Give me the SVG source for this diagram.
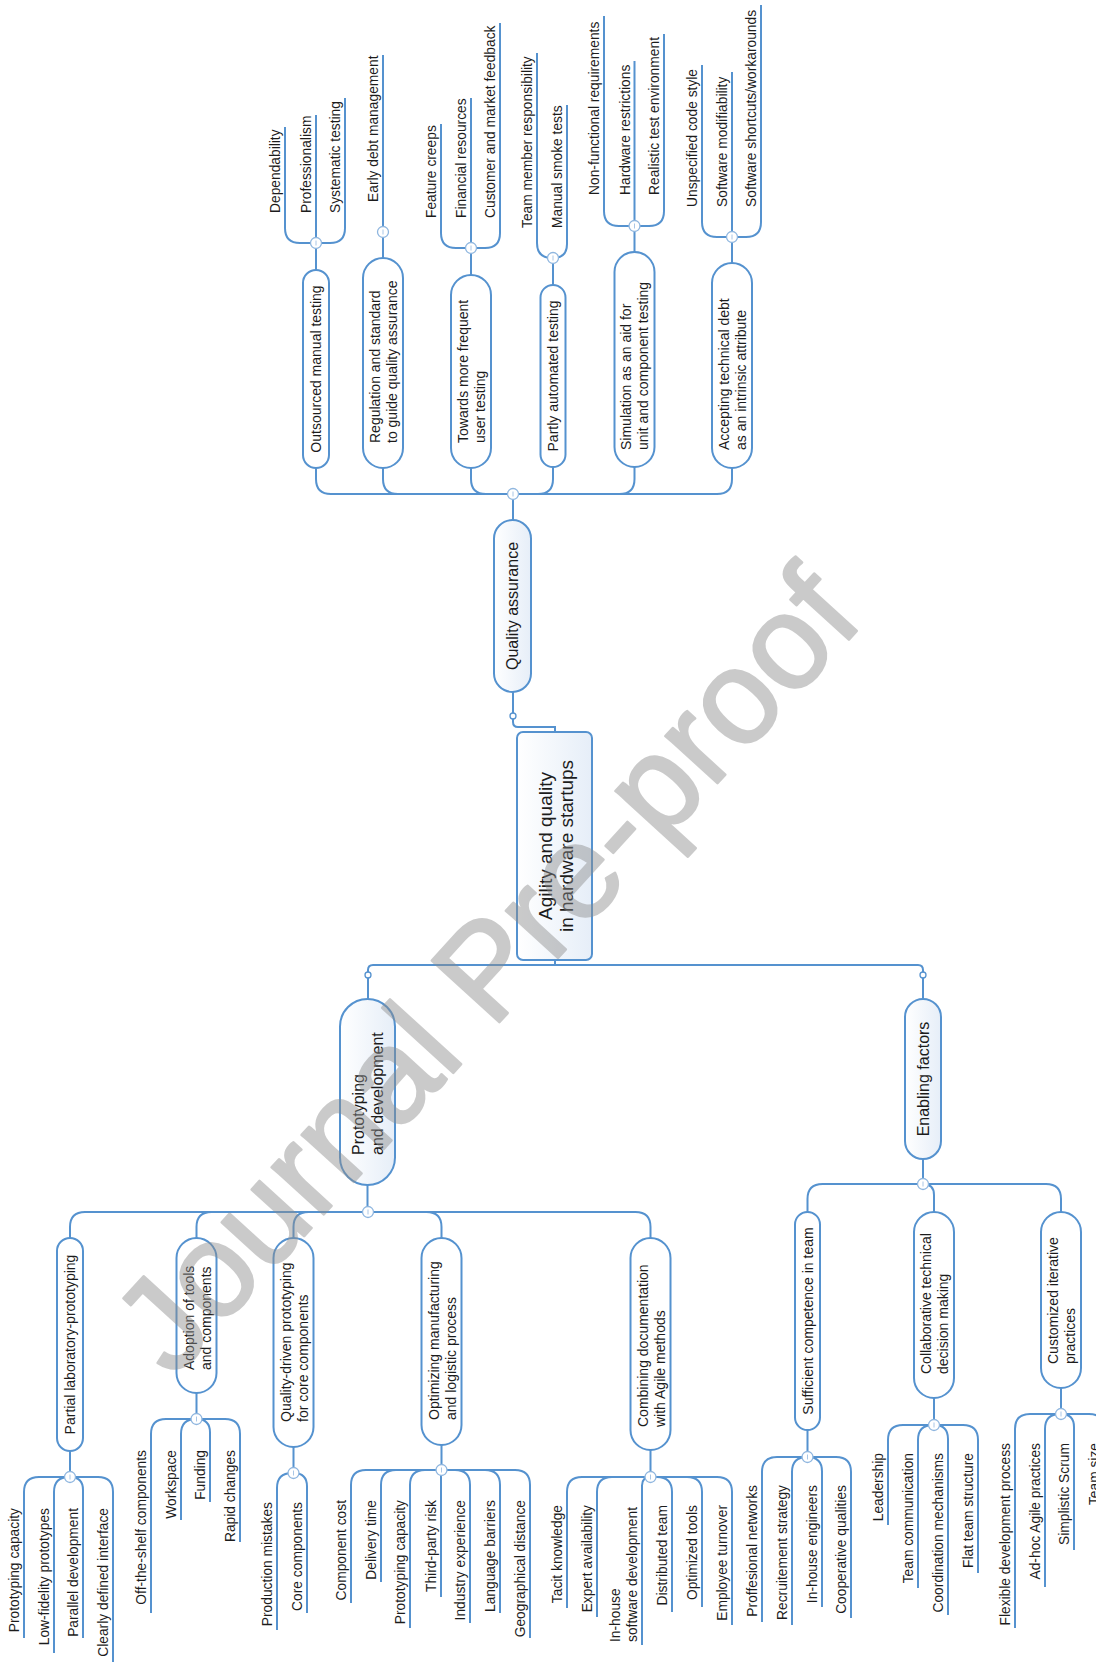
<svg xmlns="http://www.w3.org/2000/svg" width="1096" height="1662" viewBox="0 0 1096 1662">
<defs>
<linearGradient id="g" x1="0" y1="0" x2="1" y2="0">
<stop offset="0" stop-color="#ffffff"/>
<stop offset="1" stop-color="#e6eef8"/>
</linearGradient>
<style>
.ln{fill:none;stroke:#5592cf;stroke-width:2}
.nd{fill:#fff;stroke:#5592cf;stroke-width:2}
.mn{fill:url(#g);stroke:#5592cf;stroke-width:2}
.hb{fill:#fff;stroke:#8fb6df;stroke-width:1.3}
.tk{stroke:#a9c6e6;stroke-width:1}
.sm{fill:#fff;stroke:#5592cf;stroke-width:1.3}
text{font-family:"Liberation Sans",Arial,sans-serif;fill:#1c1c1c}
.t{font-size:13.8px}
.tn{font-size:14px}
.tm{font-size:16px}
.tc{font-size:19px}
.wm{font-size:133px;fill:#8c8c8c;stroke:#8c8c8c;stroke-width:2.5;stroke-linejoin:round;opacity:0.45}
</style>
</defs>
<rect width="1096" height="1662" fill="#fff"/>

<g id="connectors">
<path class="ln" d="M513,692 V722 Q513,727 518,727 H555 V732"/>
<path class="ln" d="M555,960 V965 H373 Q368,965 368,970 V999"/>
<path class="ln" d="M555,965 H918 Q923,965 923,970 V999"/>
<path class="ln" d="M513,520 V494"/>
<path class="ln" d="M513,494 H331 Q316,494 316,479 V468"/>
<path class="ln" d="M513,494 H398 Q383,494 383,479 V468"/>
<path class="ln" d="M513,494 H486 Q471,494 471,479 V468"/>
<path class="ln" d="M513,494 H538 Q553,494 553,479 V467"/>
<path class="ln" d="M513,494 H619.5 Q634.5,494 634.5,479 V467"/>
<path class="ln" d="M513,494 H717 Q732,494 732,479 V468"/>
<path class="ln" d="M316,270 V243 M383,258 V232 M471,275 V248 M553,285 V258 M634.5,252 V226 M732,263 V237"/>
<path class="ln" d="M316,243 H300 Q285,243 285,228 V127 M316,243 V115 M316,243 H330 Q345,243 345,228 V98"/>
<path class="ln" d="M383,232 V55"/>
<path class="ln" d="M471,248 H456 Q441,248 441,233 V124 M471,248 V98 M471,248 H485 Q500,248 500,233 V23"/>
<path class="ln" d="M553,258 H552 Q537,258 537,243 V53 M553,258 Q567,258 567,244 V105"/>
<path class="ln" d="M634.5,226 H619 Q604,226 604,211 V16 M634.5,226 V61 M634.5,226 H649 Q664,226 664,211 V34"/>
<path class="ln" d="M732,237 H717 Q702,237 702,222 V65 M732,237 V72 M732,237 H746 Q761,237 761,222 V5"/>
<path class="ln" d="M367.5,1185 V1212"/>
<path class="ln" d="M368,1212 H85 Q70,1212 70,1227 V1238"/>
<path class="ln" d="M368,1212 H211.5 Q196.5,1212 196.5,1227 V1238"/>
<path class="ln" d="M368,1212 H308.5 Q293.5,1212 293.5,1227 V1238"/>
<path class="ln" d="M368,1212 H426.5 Q441.5,1212 441.5,1227 V1238"/>
<path class="ln" d="M368,1212 H635.5 Q650.5,1212 650.5,1227 V1238"/>
<path class="ln" d="M70,1451 V1477 M196.5,1393 V1419 M293.5,1447 V1473 M441.5,1445 V1470 M650.5,1450 V1477"/>
<path class="ln" d="M70,1477 H39 Q24,1477 24,1492 V1638 M70,1477 H69 Q54,1477 54,1492 V1653 M70,1477 Q83,1477 83,1490 V1638 M70,1477 H98 Q113,1477 113,1492 V1662"/>
<path class="ln" d="M196.5,1419 H166 Q151,1419 151,1434 V1613 M196.5,1419 H196 Q181,1419 181,1434 V1520 M196.5,1419 Q210,1419 210,1432.5 V1502 M196.5,1419 H225 Q240,1419 240,1434 V1542"/>
<path class="ln" d="M293.5,1473 H292 Q277,1473 277,1488 V1630 M293.5,1473 Q307,1473 307,1486.5 V1613"/>
<path class="ln" d="M441.5,1470 H366 Q351,1470 351,1485 V1603 M441.5,1470 H396 Q381,1470 381,1485 V1582 M441.5,1470 H425 Q410,1470 410,1485 V1628 M441,1470 V1597 M441.5,1470 H455 Q470,1470 470,1485 V1623 M441.5,1470 H485 Q500,1470 500,1485 V1613 M441.5,1470 H515 Q530,1470 530,1485 V1638"/>
<path class="ln" d="M650.5,1477 H582 Q567,1477 567,1492 V1608 M650.5,1477 H612 Q597,1477 597,1492 V1617 M650.5,1477 Q642,1477 642,1485.5 V1645 M650.5,1477 H657 Q672,1477 672,1492 V1612 M650.5,1477 H687 Q702,1477 702,1492 V1607 M650.5,1477 H717 Q732,1477 732,1492 V1625"/>
<path class="ln" d="M923,1159 V1184"/>
<path class="ln" d="M923,1184 H822.5 Q807.5,1184 807.5,1199 V1212"/>
<path class="ln" d="M923,1184 Q934,1184 934,1195 V1212"/>
<path class="ln" d="M923,1184 H1046 Q1061,1184 1061,1199 V1212"/>
<path class="ln" d="M807.5,1430 V1457 M934,1398 V1425 M1061,1388 V1414"/>
<path class="ln" d="M807.5,1457 H777 Q762,1457 762,1472 V1622 M807.5,1457 H807 Q792,1457 792,1472 V1625 M807.5,1457 Q822,1457 822,1471.5 V1607 M807.5,1457 H836 Q851,1457 851,1472 V1618"/>
<path class="ln" d="M934,1425 H903 Q888,1425 888,1440 V1525 M934,1425 H933 Q918,1425 918,1440 V1588 M934,1425 Q948,1425 948,1439 V1615 M934,1425 H963 Q978,1425 978,1440 V1573"/>
<path class="ln" d="M1061,1414 H1030 Q1015,1414 1015,1429 V1628 M1061,1414 H1060 Q1045,1414 1045,1429 V1587 M1061,1414 Q1074,1414 1074,1427 V1550 M1061,1414 H1089 Q1104,1414 1104,1429 V1500"/>
<circle class="sm" cx="513" cy="716" r="3"/>
<circle class="sm" cx="368" cy="975" r="3"/>
<circle class="sm" cx="923" cy="975" r="3"/>
</g>

<g id="hubs">
<g><circle class="hb" cx="513" cy="494" r="5.5"/><path class="tk" d="M513,491.5V496.5"/></g>
<g><circle class="hb" cx="316" cy="243" r="5.5"/><path class="tk" d="M316,240.5V245.5"/></g>
<g><circle class="hb" cx="383" cy="232" r="5.5"/><path class="tk" d="M383,229.5V234.5"/></g>
<g><circle class="hb" cx="471" cy="248" r="5.5"/><path class="tk" d="M471,245.5V250.5"/></g>
<g><circle class="hb" cx="553" cy="258" r="5.5"/><path class="tk" d="M553,255.5V260.5"/></g>
<g><circle class="hb" cx="634.5" cy="226" r="5.5"/><path class="tk" d="M634.5,223.5V228.5"/></g>
<g><circle class="hb" cx="732" cy="237" r="5.5"/><path class="tk" d="M732,234.5V239.5"/></g>
<g><circle class="hb" cx="368" cy="1212" r="5.5"/><path class="tk" d="M368,1209.5V1214.5"/></g>
<g><circle class="hb" cx="70" cy="1477" r="5.5"/><path class="tk" d="M70,1474.5V1479.5"/></g>
<g><circle class="hb" cx="196.5" cy="1419" r="5.5"/><path class="tk" d="M196.5,1416.5V1421.5"/></g>
<g><circle class="hb" cx="293.5" cy="1473" r="5.5"/><path class="tk" d="M293.5,1470.5V1475.5"/></g>
<g><circle class="hb" cx="441.5" cy="1470" r="5.5"/><path class="tk" d="M441.5,1467.5V1472.5"/></g>
<g><circle class="hb" cx="650.5" cy="1477" r="5.5"/><path class="tk" d="M650.5,1474.5V1479.5"/></g>
<g><circle class="hb" cx="923" cy="1184" r="5.5"/><path class="tk" d="M923,1181.5V1186.5"/></g>
<g><circle class="hb" cx="807.5" cy="1457" r="5.5"/><path class="tk" d="M807.5,1454.5V1459.5"/></g>
<g><circle class="hb" cx="934" cy="1425" r="5.5"/><path class="tk" d="M934,1422.5V1427.5"/></g>
<g><circle class="hb" cx="1061" cy="1414" r="5.5"/><path class="tk" d="M1061,1411.5V1416.5"/></g>
</g>

<g id="n-central">
<rect class="mn" x="517" y="732" width="75" height="228" rx="6"/>
<text class="tc" text-anchor="middle" transform="translate(552,846) rotate(-90)">Agility and quality<tspan x="0" dy="21">in hardware startups</tspan></text>
</g>
<g id="n-qa">
<rect class="mn" x="494" y="520" width="37" height="172" rx="18.5"/>
<text class="tm" text-anchor="middle" transform="translate(518,606) rotate(-90)">Quality assurance</text>
</g>
<g id="n-proto">
<rect class="mn" x="340" y="999" width="55" height="186" rx="27.5"/>
<text class="tm" transform="translate(364,1155) rotate(-90)">Prototyping<tspan x="0" dy="19">and development</tspan></text>
</g>
<g id="n-enabling">
<rect class="mn" x="905" y="999" width="36" height="160" rx="18"/>
<text class="tm" text-anchor="middle" transform="translate(928.6,1079) rotate(-90)">Enabling factors</text>
</g>

<g id="n-outsourced">
<rect class="nd" x="303" y="270" width="26" height="198" rx="13"/>
<text class="tn" text-anchor="middle" transform="translate(321,369) rotate(-90)">Outsourced manual testing</text>
</g>
<g id="n-regulation">
<rect class="nd" x="363" y="258" width="40" height="210" rx="20"/>
<text class="tn" transform="translate(379.5,443) rotate(-90)">Regulation and standard<tspan x="0" dy="17">to guide quality assurance</tspan></text>
</g>
<g id="n-towards">
<rect class="nd" x="451" y="275" width="40" height="193" rx="20"/>
<text class="tn" transform="translate(467.5,443) rotate(-90)">Towards more frequent<tspan x="0" dy="17">user testing</tspan></text>
</g>
<g id="n-partly">
<rect class="nd" x="540.5" y="285" width="25" height="182" rx="12.5"/>
<text class="tn" text-anchor="middle" transform="translate(558,376) rotate(-90)">Partly automated testing</text>
</g>
<g id="n-simulation">
<rect class="nd" x="614.5" y="252" width="40" height="215" rx="20"/>
<text class="tn" transform="translate(631,450) rotate(-90)">Simulation as an aid for<tspan x="0" dy="17">unit and component testing</tspan></text>
</g>
<g id="n-accepting">
<rect class="nd" x="712" y="263" width="40" height="205" rx="20"/>
<text class="tn" transform="translate(728.5,450) rotate(-90)">Accepting technical debt<tspan x="0" dy="17">as an intrinsic attribute</tspan></text>
</g>

<g id="leaves-qa">
<text class="t" transform="translate(280,213) rotate(-90)">Dependability</text>
<text class="t" transform="translate(311,213) rotate(-90)">Professionalism</text>
<text class="t" transform="translate(340,213) rotate(-90)">Systematic testing</text>
<text class="t" transform="translate(378,202) rotate(-90)">Early debt management</text>
<text class="t" transform="translate(436,218) rotate(-90)">Feature creeps</text>
<text class="t" transform="translate(466,218) rotate(-90)">Financial resources</text>
<text class="t" transform="translate(495,218) rotate(-90)">Customer and market feedback</text>
<text class="t" transform="translate(532,228) rotate(-90)">Team member responsibility</text>
<text class="t" transform="translate(562,228) rotate(-90)">Manual smoke tests</text>
<text class="t" transform="translate(599,195) rotate(-90)">Non-functional requirements</text>
<text class="t" transform="translate(629.5,195) rotate(-90)">Hardware restrictions</text>
<text class="t" transform="translate(659,195) rotate(-90)">Realistic test environment</text>
<text class="t" transform="translate(697,207) rotate(-90)">Unspecified code style</text>
<text class="t" transform="translate(727,207) rotate(-90)">Software modifiability</text>
<text class="t" transform="translate(756,207) rotate(-90)">Software shortcuts/workarounds</text>
</g>

<g id="n-partial">
<rect class="nd" x="57" y="1238" width="26" height="213" rx="13"/>
<text class="tn" text-anchor="middle" transform="translate(75,1344.5) rotate(-90)">Partial laboratory-prototyping</text>
</g>
<g id="n-adoption">
<rect class="nd" x="176.5" y="1238" width="40" height="155" rx="20"/>
<text class="tn" transform="translate(193.5,1370) rotate(-90)">Adoption of tools<tspan x="0" dy="17">and components</tspan></text>
</g>
<g id="n-qualitydriven">
<rect class="nd" x="273.5" y="1238" width="40" height="209" rx="20"/>
<text class="tn" transform="translate(290.5,1422) rotate(-90)">Quality-driven prototyping<tspan x="0" dy="17">for core components</tspan></text>
</g>
<g id="n-optimizing">
<rect class="nd" x="421.5" y="1238" width="40" height="207" rx="20"/>
<text class="tn" transform="translate(438.5,1420) rotate(-90)">Optimizing manufacturing<tspan x="0" dy="17">and logistic process</tspan></text>
</g>
<g id="n-combining">
<rect class="nd" x="630.5" y="1238" width="40" height="212" rx="20"/>
<text class="tn" transform="translate(647.5,1427) rotate(-90)">Combining documentation<tspan x="0" dy="17">with Agile methods</tspan></text>
</g>

<g id="leaves-proto">
<text class="t" text-anchor="end" transform="translate(19,1508) rotate(-90)">Prototyping capacity</text>
<text class="t" text-anchor="end" transform="translate(49,1508) rotate(-90)">Low-fidelity prototypes</text>
<text class="t" text-anchor="end" transform="translate(78,1508) rotate(-90)">Parallel development</text>
<text class="t" text-anchor="end" transform="translate(108,1508) rotate(-90)">Clearly defined interface</text>
<text class="t" text-anchor="end" transform="translate(146,1450) rotate(-90)">Off-the-shelf components</text>
<text class="t" text-anchor="end" transform="translate(176,1450) rotate(-90)">Workspace</text>
<text class="t" text-anchor="end" transform="translate(205,1450) rotate(-90)">Funding</text>
<text class="t" text-anchor="end" transform="translate(235,1450) rotate(-90)">Rapid changes</text>
<text class="t" text-anchor="end" transform="translate(272,1502) rotate(-90)">Production mistakes</text>
<text class="t" text-anchor="end" transform="translate(302,1502) rotate(-90)">Core components</text>
<text class="t" text-anchor="end" transform="translate(346,1500) rotate(-90)">Component cost</text>
<text class="t" text-anchor="end" transform="translate(376,1500) rotate(-90)">Delivery time</text>
<text class="t" text-anchor="end" transform="translate(405,1500) rotate(-90)">Prototyping capacity</text>
<text class="t" text-anchor="end" transform="translate(436,1500) rotate(-90)">Third-party risk</text>
<text class="t" text-anchor="end" transform="translate(465,1500) rotate(-90)">Industry experience</text>
<text class="t" text-anchor="end" transform="translate(495,1500) rotate(-90)">Language barriers</text>
<text class="t" text-anchor="end" transform="translate(525,1500) rotate(-90)">Geographical distance</text>
<text class="t" text-anchor="end" transform="translate(562,1505) rotate(-90)">Tacit knowledge</text>
<text class="t" text-anchor="end" transform="translate(592,1505) rotate(-90)">Expert availability</text>
<text class="t" transform="translate(620,1642) rotate(-90)">In-house<tspan x="0" dy="17">software development</tspan></text>
<text class="t" text-anchor="end" transform="translate(667,1505) rotate(-90)">Distributed team</text>
<text class="t" text-anchor="end" transform="translate(697,1505) rotate(-90)">Optimized tools</text>
<text class="t" text-anchor="end" transform="translate(727,1505) rotate(-90)">Employee turnover</text>
</g>

<g id="n-sufficient">
<rect class="nd" x="795" y="1212" width="25" height="218" rx="12.5"/>
<text class="tn" text-anchor="middle" transform="translate(812.5,1321) rotate(-90)">Sufficient competence in team</text>
</g>
<g id="n-collaborative">
<rect class="nd" x="914" y="1212" width="40" height="186" rx="20"/>
<text class="tn" transform="translate(931,1374) rotate(-90)">Collaborative technical<tspan x="0" dy="17">decision making</tspan></text>
</g>
<g id="n-customized">
<rect class="nd" x="1041" y="1212" width="40" height="176" rx="20"/>
<text class="tn" transform="translate(1058,1364) rotate(-90)">Customized iterative<tspan x="0" dy="17">practices</tspan></text>
</g>

<g id="leaves-enabling">
<text class="t" text-anchor="end" transform="translate(757,1485) rotate(-90)">Proffesional networks</text>
<text class="t" text-anchor="end" transform="translate(787,1485) rotate(-90)">Recruitement strategy</text>
<text class="t" text-anchor="end" transform="translate(817,1485) rotate(-90)">In-house engineers</text>
<text class="t" text-anchor="end" transform="translate(846,1485) rotate(-90)">Cooperative qualities</text>
<text class="t" text-anchor="end" transform="translate(883,1453) rotate(-90)">Leadership</text>
<text class="t" text-anchor="end" transform="translate(913,1453) rotate(-90)">Team communication</text>
<text class="t" text-anchor="end" transform="translate(943,1453) rotate(-90)">Coordination mechanisms</text>
<text class="t" text-anchor="end" transform="translate(973,1453) rotate(-90)">Flat team structure</text>
<text class="t" text-anchor="end" transform="translate(1010,1443) rotate(-90)">Flexible development process</text>
<text class="t" text-anchor="end" transform="translate(1040,1443) rotate(-90)">Ad-hoc Agile practices</text>
<text class="t" text-anchor="end" transform="translate(1069,1443) rotate(-90)">Simplistic Scrum</text>
<text class="t" text-anchor="end" transform="translate(1099,1443) rotate(-90)">Team size</text>
</g>

<g id="watermark">
<text class="wm" text-anchor="middle" dy="0.36em" transform="translate(484,968) rotate(-47.6)">Journal Pre-proof</text>
</g>
</svg>
